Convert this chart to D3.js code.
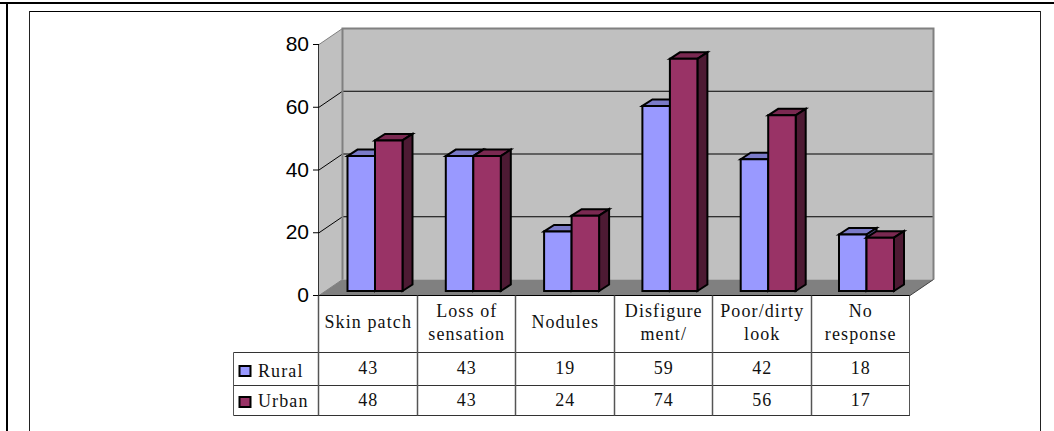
<!DOCTYPE html>
<html><head><meta charset="utf-8"><style>html,body{margin:0;padding:0;background:#fff}svg{display:block}</style>
<script src="https://cdn.jsdelivr.net/npm/d3@7"></script></head><body><svg id="c" width="1054" height="431"></svg>
<script>
const categories=[["Skin patch"],["Loss of","sensation"],["Nodules"],["Disfigure","ment/"],["Poor/dirty","look"],["No","response"]];
const seriesNames=["Rural","Urban"];
const rural=[43,43,19,59,42,18];
const urban=[48,43,24,74,56,17];
const yTicks=[0,20,40,60,80];
const serif="'Liberation Serif',serif", sans="'Liberation Sans',sans-serif";
const svg=d3.select("#c");
const line=(x1,y1,x2,y2,c,w)=>svg.append("line").attr("x1",x1).attr("y1",y1).attr("x2",x2).attr("y2",y2).attr("stroke",c).attr("stroke-width",w);
const poly=(pts,f,s,w)=>svg.append("polygon").attr("points",pts.map(p=>p.join(",")).join(" ")).attr("fill",f).attr("stroke",s||"none").attr("stroke-width",w||0).attr("stroke-linejoin","miter");
// frames
line(0,3,1054,3,"#000",2);
line(7,3,7,431,"#000",2);
line(30,11.5,1040,11.5,"#000",1);
line(29.5,11,29.5,431,"#222",1);
line(1040.5,11,1040.5,431,"#222",1);
const y=d3.scaleLinear().domain([0,80]).range([295.5,44.5]);
const x=d3.scaleBand().domain(d3.range(6)).range([319,910]);
const dx=23.5, dy=-16;
const x0=319,x1=910;
// walls
poly([[x0,y(0)],[x0+dx,y(0)+dy],[x0+dx,y(80)+dy],[x0,y(80)]],"#c0c0c0");
poly([[x0+dx,y(0)+dy],[x1+dx,y(0)+dy],[x1+dx,y(80)+dy],[x0+dx,y(80)+dy]],"#c0c0c0");
poly([[x0,y(0)],[x0+dx,y(0)+dy],[x1+dx,y(0)+dy],[x1,y(0)]],"#808080");
// gridlines
yTicks.slice(1,4).forEach(t=>{
  line(x0,y(t),x0+dx,y(t)+dy,"#000",1);
  line(x0+dx,y(t)+dy,x1+dx,y(t)+dy,"#000",1);
});
// wall edges
svg.append("path").attr("fill","none").attr("stroke","#808080").attr("stroke-width",2)
  .attr("d",`M${x0+dx},${y(0)+dy}V${y(80)+dy}H${x1+dx}V${y(0)+dy}`);
line(x0,y(80),x0+dx,y(80)+dy,"#808080",1);
line(x0+dx,y(0)+dy,x0,y(0),"#808080",1);
line(x1+dx,y(0)+dy,x1,y(0),"#404040",1);
// y axis
line(x0-0.5,y(0),x0-0.5,y(80),"#333",1);
yTicks.forEach(t=>{
  line(x0-6,y(t),x0,y(t),"#000",1);
  svg.append("text").attr("x",x0-10).attr("y",y(t)+6.5).attr("text-anchor","end")
     .attr("font-family",sans).attr("font-size",21).attr("fill","#000").text(t);
});
// bars
const bw=27.5, bdx=10, bdy=-6.5, base=-4.5;
const colors={Rural:["#9999ff","#7a7ac8","#4d4d80"],Urban:["#993366","#7a2951","#4d1a33"]};
const leftPad=28.5;
function bar(px,v,c){
  const top=y(v)+base, bot=y(0)+base;
  poly([[px,top],[px+bdx,top+bdy],[px+bw+bdx,top+bdy],[px+bw,top]],c[1],"#000",2);
  poly([[px+bw,top],[px+bw+bdx,top+bdy],[px+bw+bdx,bot+bdy],[px+bw,bot]],c[2],"#000",2);
  poly([[px,top],[px+bw,top],[px+bw,bot],[px,bot]],c[0],"#000",2);
}
categories.forEach((_,i)=>{
  const px=x(i)+leftPad-i*0.2;
  bar(px,rural[i],colors.Rural);
  bar(px+bw,urban[i],colors.Urban);
});
// data table
const rows=[295.5,352.5,385.5,415.5], tl=233.5;
line(x0,rows[0],x1,rows[0],"#000",1);
line(tl,rows[1],x1,rows[1],"#333",1);
line(tl,rows[2],x1,rows[2],"#333",1);
line(tl,rows[3],x1,rows[3],"#333",1);
line(tl,rows[1],tl,rows[3],"#555",1);
d3.range(7).forEach(i=>{
  const px=Math.round(i<6?x(i):x1)-0.5;
  line(px,rows[0],px,rows[3],"#555",i===6?1:1.5);
});
const txt=(tx,ty,s,a)=>svg.append("text").attr("x",tx).attr("y",ty).attr("text-anchor",a||"middle")
  .attr("font-family",serif).attr("font-size",18).attr("letter-spacing",1.1).attr("fill","#111").text(s);
categories.forEach((c,i)=>{
  const cx=x(i)+x.bandwidth()/2;
  if(c.length===1) txt(cx,328,c[0]);
  else {txt(cx,317,c[0]);txt(cx,340,c[1]);}
  txt(cx,374,rural[i]);
  txt(cx,406,urban[i]);
});
seriesNames.forEach((n,j)=>{
  const yy=[371,402][j];
  svg.append("rect").attr("x",239.5).attr("y",yy-5).attr("width",11).attr("height",10)
     .attr("fill",colors[n][0]).attr("stroke","#000").attr("stroke-width",2);
  txt(258,[377,407][j],n,"start");
});
</script></body></html>
